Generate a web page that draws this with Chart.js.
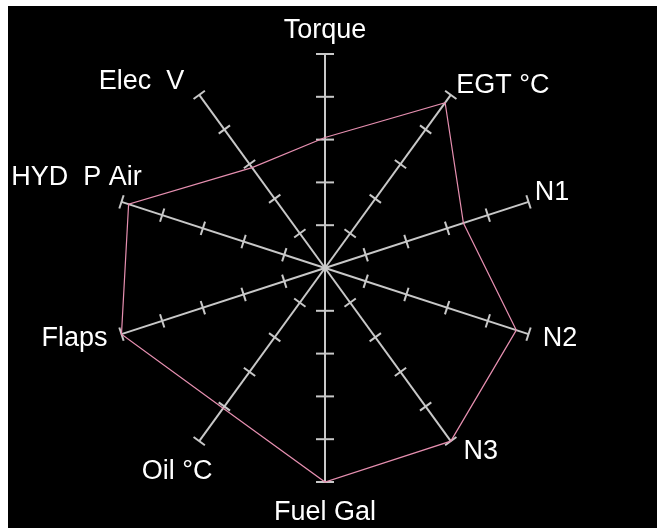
<!DOCTYPE html>
<html><head>
<meta charset="UTF-8">
<title>Engine radar</title>
<style>
  body { margin: 0; background: #fff; }
  .panel { position: absolute; left: 8px; top: 6px; width: 649px; height: 522px; background: #000; }
  canvas { display: block; }
</style>
<script src="https://cdn.jsdelivr.net/npm/chart.js"></script>
</head>
<body>
<div class="panel"><canvas id="radar" width="649" height="522"></canvas></div>
<script>
  // axis names, clockwise from the top
  var labels = ['Torque', 'EGT °C', 'N1', 'N2', 'N3', 'Fuel Gal', 'Oil °C', 'Flaps', 'HYD  P Air', 'Elec  V'];
  // readings, percent of full scale
  var readings = [61, 95.5, 68, 94, 100, 100, 81, 100, 96.5, 58];
  // where the cross ticks sit on every spoke
  var tickValues = [20, 40, 60, 80, 100];
  var scaleMax = 100;

  // name placement relative to the end of its spoke: [centre x, baseline y]
  var labelOffsets = [[0, -16.5], [52, -1.4], [23.5, -1.4], [31.5, 11.4], [30, 17.4],
                      [0, 37.5], [-22, 37.4], [-47, 11.4], [-45, -16.4], [-57.7, -5.4]];

  var spokeTicks = {
    id: 'spokeTicks',
    beforeDatasetsDraw: function(chart) {
      var scale = chart.scales.r, ctx = chart.ctx;
      ctx.save();
      ctx.strokeStyle = '#c8c8c8';
      ctx.lineWidth = 2;
      for (var i = 0; i < labels.length; i++) {
        var end = scale.getPointPosition(i, scale.drawingArea);
        var ux = (end.x - scale.xCenter) / scale.drawingArea;
        var uy = (end.y - scale.yCenter) / scale.drawingArea;
        var half = Math.abs(ux) < 0.01 ? 9 : 7;
        tickValues.forEach(function(v) {
          var p = scale.getPointPosition(i, scale.getDistanceFromCenterForValue(v));
          ctx.beginPath();
          ctx.moveTo(p.x - uy * half, p.y + ux * half);
          ctx.lineTo(p.x + uy * half, p.y - ux * half);
          ctx.stroke();
        });
      }
      ctx.restore();
    },
    afterDraw: function(chart) {
      var scale = chart.scales.r, ctx = chart.ctx;
      ctx.save();
      ctx.fillStyle = '#ffffff';
      ctx.font = '27px "Liberation Sans", Arial, sans-serif';
      ctx.textAlign = 'center';
      ctx.textBaseline = 'alphabetic';
      for (var i = 0; i < labels.length; i++) {
        var end = scale.getPointPosition(i, scale.drawingArea);
        ctx.fillText(labels[i], end.x + labelOffsets[i][0], end.y + labelOffsets[i][1]);
      }
      ctx.restore();
    }
  };

  var radarChart = new Chart(document.getElementById('radar'), {
    type: 'radar',
    data: {
      labels: labels,
      datasets: [{
        data: readings,
        borderColor: '#e68fb0',
        borderWidth: 1.2,
        pointRadius: 0,
        pointHoverRadius: 0,
        fill: false,
        tension: 0
      }]
    },
    options: {
      responsive: false,
      animation: false,
      events: [],
      layout: { padding: { left: 103, right: 118, top: 48, bottom: 46 } },
      plugins: { legend: { display: false }, tooltip: { enabled: false } },
      scales: {
        r: {
          min: 0,
          max: scaleMax,
          ticks: { display: false, stepSize: 20 },
          grid: { display: false },
          angleLines: { display: true, color: '#c8c8c8', lineWidth: 2 },
          pointLabels: { display: false }
        }
      }
    },
    plugins: [spokeTicks]
  });
</script>
</body>
</html>
